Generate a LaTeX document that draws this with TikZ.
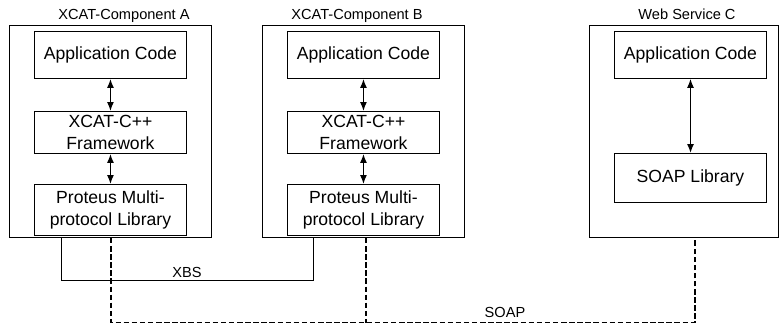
\documentclass[tikz,border=0pt]{standalone}
\usepackage{fontspec}
\setmainfont{Liberation Sans}
\usetikzlibrary{arrows.meta}
\tikzset{
  frame/.style={draw,line width=.9pt,minimum width=202pt,minimum height=212pt,inner sep=0pt,anchor=north west},
  layer/.style={draw,line width=.9pt,minimum width=152pt,inner sep=0pt,align=center,anchor=north,font=\fontsize{17.6}{21.5}\selectfont},
  title/.style={anchor=base,font=\fontsize{14.6}{17}\selectfont},
  lbl/.style={font=\fontsize{14.6}{17}\selectfont},
  xbs/.style={line width=.9pt},
  soap/.style={line width=1.8pt,dash pattern=on 5.5pt off 2.6pt},
  both/.style={{Latex[length=9pt,width=7pt]}-{Latex[length=9pt,width=7pt]},line width=1.3pt}
}
\begin{document}
\begin{tikzpicture}[x=1pt,y=-1pt]
  \useasboundingbox (0,0) rectangle (779,327);
  \foreach \n/\x/\tx/\t in {A/9/124/XCAT-Component A,B/262/357/XCAT-Component B} {
    \node[frame] (box\n) at (\x,25) {}; \node[title] (title\n) at (\tx,19) {\t};
    \node[layer,minimum height=47pt] (app\n) at ([yshift=-6pt]box\n.north) {Application Code};
    \node[layer,minimum height=42pt] (fw\n) at ([yshift=-86pt]box\n.north) {XCAT-C++\\Framework};
    \node[layer,minimum height=51pt] (prot\n) at ([yshift=-159pt]box\n.north) {Proteus Multi-\\protocol Library};
    \draw[both] (app\n) -- (fw\n); \draw[both] (fw\n) -- (prot\n);
  }
  \node[frame,minimum width=189pt] (boxC) at (589,25) {}; \node[title] (titleC) at (687,19) {Web Service C};
  \node[layer,minimum height=47pt] (appC) at (690.5,31) {Application Code};
  \node[layer,minimum height=49pt] (soapC) at (690.5,153) {SOAP Library};
  \draw[both] (appC) -- (soapC);
  \coordinate (xbsA) at (61,280.5); \coordinate (xbsB) at (313,280.5);
  \draw[xbs] (boxA.south -| xbsA) -- (xbsA) -- node[lbl,above,inner sep=2pt] (xbsLbl) {XBS} (xbsB) -- (boxB.south -| xbsB);
  \coordinate (sA) at (111,322.5); \coordinate (sB) at (366,322.5); \coordinate (sC) at (695,322.5);
  \draw[soap] (boxA.south -| sA) -- (sA) -- (sC) -- (boxC.south -| sC); \draw[soap] (boxB.south -| sB) -- (sB);
  \node[lbl,anchor=base] (soapLbl) at (505,317) {SOAP};
\end{tikzpicture}
\end{document}
